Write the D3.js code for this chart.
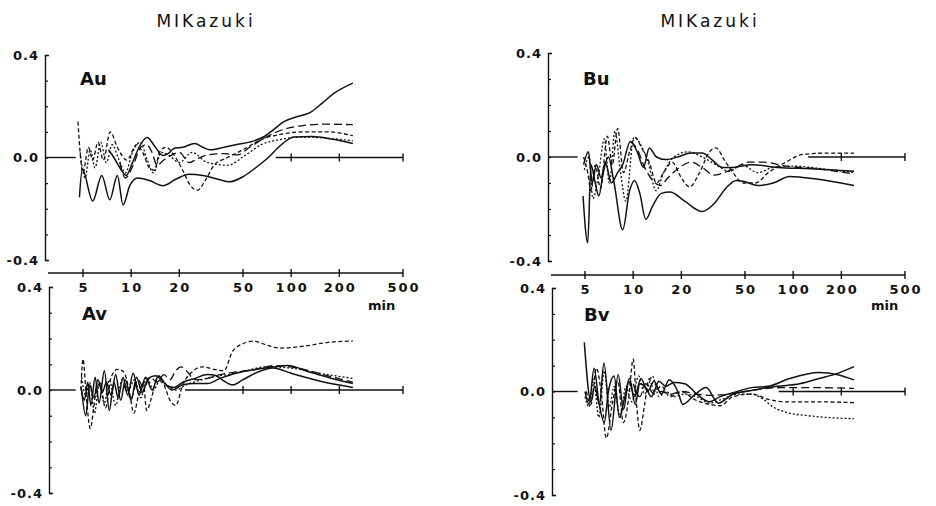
<!DOCTYPE html>
<html>
<head>
<meta charset="utf-8">
<script src="https://cdn.jsdelivr.net/npm/d3@7"></script>
<style>
  body { margin: 0; background: #fff; }
  text { font-family: "DejaVu Sans", sans-serif; fill: #111; }
</style>
</head>
<body>
<div id="chart"></div>
<script>
// ---- data (t in min, coefficient) ----
var xTicks = [5, 10, 20, 50, 100, 200, 500];
var yTicks = [0.4, 0.3, 0.2, 0.1, 0.0, -0.1, -0.2, -0.3, -0.4];
var yLabelled = [0.4, 0.0, -0.4];
var titles = ["MIKazuki", "MIKazuki"];
var panelNames = ["Au", "Bu", "Av", "Bv"];
var lineKinds = ["solid", "solid", "longdash", "shortdash", "dotted"];

var au = [
  [[7.2,0.03],[7.8,0.0],[8.5,-0.04],[9.3,-0.07],[10.2,-0.02],[11.2,0.04],[12.6,0.078],[14,0.045],[15.8,0.008],[17,0.015],[18.5,0.035],[21,0.04],[25,0.055],[28,0.04],[31,0.03],[38,0.04],[45,0.05],[55,0.06],[67,0.08],[78,0.11],[90,0.14],[110,0.16],[131,0.175],[155,0.21],[183,0.248],[243,0.29]],
  [[4.75,-0.155],[4.95,-0.045],[5.75,-0.17],[6.55,-0.07],[7.35,-0.165],[8.2,-0.07],[8.9,-0.185],[9.8,-0.11],[11,-0.08],[13,-0.09],[15.8,-0.11],[19,-0.085],[23,-0.065],[28,-0.07],[35,-0.085],[41,-0.095],[50,-0.075],[60,-0.04],[72,0.0],[85,0.045],[104,0.08],[135,0.082],[180,0.072],[243,0.055]],
  [[8.5,-0.02],[9.2,-0.08],[10.3,-0.03],[11.5,0.04],[12.5,0.05],[13.5,0.02],[14.5,-0.03],[16,-0.01],[18,0.01],[20,0.02],[23,-0.02],[26,-0.005],[30,0.01],[38,0.015],[46,0.01],[55,0.04],[70,0.08],[90,0.11],[120,0.125],[160,0.13],[243,0.128]],
  [[4.65,0.14],[5.0,-0.06],[5.4,0.04],[5.75,-0.01],[6.2,0.06],[6.7,-0.01],[7.4,0.1],[8.2,0.04],[9.4,-0.01],[10.8,0.05],[11.8,0.02],[13,-0.04],[14,-0.05],[15,0.02],[16.5,0.04],[18.5,0.01],[21,-0.05],[23.5,-0.11],[26,-0.128],[29,-0.09],[33,-0.03],[40,0.0],[50,0.03],[65,0.07],[85,0.09],[120,0.1],[170,0.1],[243,0.085]],
  [[4.8,0.02],[5.15,-0.08],[5.55,0.03],[5.95,-0.04],[6.45,0.06],[7.0,-0.02],[7.6,0.05],[8.4,-0.01],[9.2,-0.06],[10.2,0.02],[11.4,0.06],[12.6,-0.01],[13.8,-0.06],[15.4,0.02],[17.5,0.005],[20,-0.02],[24,0.02],[30,-0.02],[40,-0.03],[52,0.01],[65,0.05],[85,0.07],[120,0.08],[170,0.075],[243,0.065]]
];

var bu = [
  [[4.86,-0.15],[5.2,-0.33],[5.45,-0.03],[5.75,-0.09],[6.1,-0.15],[6.5,-0.06],[7.0,0.0],[7.6,-0.1],[8.6,-0.28],[9.5,-0.13],[10.2,-0.09],[11,-0.14],[12,-0.24],[13.2,-0.19],[15,-0.14],[17,-0.135],[21,-0.17],[27,-0.21],[32,-0.18],[38,-0.12],[44,-0.09],[50,-0.095],[60,-0.11],[75,-0.1],[95,-0.075],[140,-0.085],[240,-0.11]],
  [[4.9,-0.03],[5.25,0.02],[5.55,-0.1],[5.9,-0.03],[6.3,-0.08],[6.7,-0.02],[7.3,-0.1],[8.0,-0.06],[8.6,-0.03],[9.6,0.06],[10.6,0.02],[11.6,-0.04],[12.6,0.035],[14,0.0],[16,-0.01],[19,0.0],[23,0.015],[27,0.015],[31,-0.01],[36,-0.04],[42,-0.04],[55,-0.03],[80,-0.04],[130,-0.045],[240,-0.055]],
  [[9.7,0.06],[10.6,0.03],[11.8,-0.04],[13.2,-0.09],[14.8,-0.11],[16.5,-0.08],[19.5,-0.04],[23,-0.02],[27,-0.04],[32,-0.07],[37,-0.06],[44,-0.04],[52,-0.02],[65,-0.02],[90,-0.035],[140,-0.045],[240,-0.065]],
  [[4.9,0.0],[5.2,-0.06],[5.45,-0.13],[5.8,-0.03],[6.25,-0.12],[6.9,0.08],[7.4,-0.03],[8.0,0.11],[8.7,-0.06],[9.5,0.02],[10.3,0.075],[11.4,0.03],[12.6,-0.02],[14,-0.1],[15.5,-0.06],[17.5,-0.02],[20,-0.08],[22.5,-0.115],[26,-0.06],[30,0.02],[33,0.035],[37,-0.01],[42,-0.06],[49,-0.1],[58,-0.1],[70,-0.06],[90,-0.02],[115,0.01],[160,0.015],[240,0.015]],
  [[4.95,-0.05],[5.3,0.0],[5.6,-0.16],[6.1,-0.06],[6.6,0.07],[7.1,-0.1],[7.7,0.1],[8.3,-0.05],[9.0,-0.17],[10.1,0.075],[11.3,0.04],[12.4,-0.02],[13.9,-0.13],[15.5,-0.06],[18,0.0],[22,0.02],[27,0.0],[33,-0.03],[40,-0.055],[48,-0.03],[60,-0.06],[75,-0.04],[100,-0.035],[150,-0.045],[240,-0.06]]
];

var av = [
  [[4.85,0.01],[5.1,-0.04],[5.35,0.03],[5.6,-0.06],[5.95,0.05],[6.3,-0.05],[6.8,0.075],[7.3,-0.08],[7.8,0.03],[8.3,-0.03],[8.9,0.05],[9.5,-0.02],[10.3,0.065],[11.2,-0.02],[12.3,0.05],[13.5,0.0],[14.8,0.055],[16.5,0.02],[18.5,0.01],[21,0.03],[25,0.045],[30,0.06],[34,0.055],[38,0.035],[43,0.02],[50,0.04],[62,0.07],[77,0.085],[100,0.065],[150,0.035],[243,0.01]],
  [[4.9,0.0],[5.2,-0.1],[5.5,0.02],[5.85,-0.03],[6.2,0.04],[6.6,-0.01],[7.0,0.03],[7.5,-0.02],[8.0,0.06],[8.6,-0.04],[9.2,0.04],[10,-0.04],[10.8,0.05],[11.7,-0.01],[12.8,0.045],[14.2,0.055],[16,0.03],[18,0.0],[21,0.02],[25,0.025],[30,0.025],[36,0.045],[45,0.065],[60,0.08],[80,0.09],[95,0.095],[130,0.07],[180,0.045],[243,0.025]],
  [[9.0,0.02],[10,-0.03],[11,0.04],[12,0.01],[13.2,0.05],[14.5,0.03],[16,0.06],[17.5,0.04],[19,0.075],[20.5,0.09],[22.5,0.07],[25,0.04],[30,0.045],[36,0.06],[45,0.07],[60,0.08],[80,0.095],[110,0.085],[170,0.055],[243,0.03]],
  [[4.85,0.0],[5.0,0.12],[5.25,-0.03],[5.55,-0.15],[5.95,-0.03],[6.4,0.03],[6.9,-0.07],[7.5,0.05],[8.2,0.08],[9.0,0.07],[9.7,0.0],[10.4,-0.09],[11.2,-0.01],[11.9,0.03],[12.5,-0.08],[13.4,-0.03],[14.5,0.04],[16,0.02],[17.5,-0.04],[19,-0.06],[21,0.02],[24,0.07],[28,0.09],[33,0.08],[38,0.075],[43,0.15],[50,0.18],[58,0.19],[70,0.175],[85,0.163],[120,0.17],[170,0.185],[243,0.19]],
  [[4.9,0.05],[5.2,-0.02],[5.5,0.03],[5.9,-0.09],[6.3,0.02],[6.8,-0.05],[7.3,0.04],[8.0,-0.06],[8.8,0.04],[9.6,0.0],[10.5,0.04],[11.5,-0.03],[12.5,0.05],[13.8,0.0],[15.2,0.04],[17,0.015],[19,0.0],[22,0.02],[26,0.035],[32,0.05],[40,0.06],[52,0.075],[70,0.09],[100,0.085],[150,0.065],[243,0.045]]
];

var bv = [
  [[4.95,0.19],[5.45,-0.04],[5.75,0.02],[6.15,-0.05],[6.57,0.11],[7.27,-0.15],[8.06,0.065],[8.7,-0.07],[9.4,0.04],[10.2,-0.02],[11.2,0.05],[12.3,0.0],[13.5,0.04],[15,-0.01],[16.8,0.045],[19,0.0],[20.4,-0.05],[24,-0.015],[28.6,0.015],[34,-0.045],[42,-0.01],[50,0.0],[62,0.01],[80,0.02],[110,0.03],[145,0.05],[190,0.07],[240,0.096]],
  [[5.0,0.0],[5.3,-0.05],[5.7,0.09],[6.1,-0.04],[6.6,-0.12],[7.0,0.0],[7.6,0.06],[8.2,-0.1],[8.8,-0.03],[9.5,0.05],[10.3,-0.05],[11,0.03],[12,0.015],[13,-0.02],[14.5,0.04],[16,0.02],[18,0.035],[21,0.03],[25,-0.01],[30,-0.04],[35,-0.02],[42,-0.005],[55,0.015],[70,0.02],[95,0.05],[145,0.073],[190,0.065],[240,0.045]],
  [[10,0.03],[11,-0.02],[12,0.03],[13.5,-0.01],[15,0.0],[17,-0.01],[20,0.0],[25,-0.01],[30,-0.015],[40,-0.01],[50,0.0],[65,0.01],[85,0.015],[130,0.015],[240,0.012]],
  [[5.1,0.0],[5.45,-0.05],[5.9,0.09],[6.3,0.0],[6.8,-0.18],[7.4,-0.05],[8.0,0.04],[8.7,-0.12],[9.4,-0.02],[10.0,0.125],[10.5,-0.05],[11,-0.15],[11.8,-0.05],[12.6,0.05],[13.5,0.0],[15,0.02],[17,-0.02],[20,0.0],[24,-0.03],[30,-0.05],[35,-0.055],[42,-0.02],[55,-0.01],[70,-0.03],[90,-0.04],[140,-0.04],[240,-0.043]],
  [[5.0,-0.02],[5.3,-0.06],[5.65,0.05],[6.1,-0.1],[6.6,0.08],[7.1,-0.06],[7.6,0.02],[8.3,-0.1],[9,0.02],[9.8,-0.04],[10.8,0.06],[11.8,-0.01],[13.2,0.06],[14.5,-0.02],[16,0.0],[18,-0.02],[21,-0.01],[25,-0.02],[30,-0.045],[36,-0.03],[45,-0.01],[55,-0.01],[65,-0.03],[75,-0.06],[90,-0.08],[130,-0.095],[240,-0.105]]
];

// ---- layout ----
var svgWidth = 936;
var svgHeight = 506;

var svg = d3.select("#chart")
  .append("svg")
  .attr("width", svgWidth)
  .attr("height", svgHeight);

// one log time axis per column
var columns = [
  { range: [83, 403], axisStart: 48, axisY: 273, title: titles[0], titleX: 205, minX: 368 },
  { range: [585, 905], axisStart: 551, axisY: 275, title: titles[1], titleX: 709, minX: 871 }
];
columns.forEach(function(c) {
  c.x = d3.scaleLog().domain([5, 500]).range(c.range);
});

// panels: column, y range, y-axis x, label position, where zero line resumes
var panels = [
  { name: panelNames[0], data: au, col: 0, yRange: [260, 55], axisX: 45, labelX: 80, labelY: 85, zeroFrom: 80 },
  { name: panelNames[1], data: bu, col: 1, yRange: [261, 53], axisX: 548, labelX: 583, labelY: 85, zeroFrom: 124 },
  { name: panelNames[2], data: av, col: 0, yRange: [493, 287], axisX: 49, labelX: 82, labelY: 320, zeroFrom: 21.7 },
  { name: panelNames[3], data: bv, col: 1, yRange: [495, 288], axisX: 552, labelX: 584, labelY: 321, zeroFrom: 81 }
];

var dashes = {
  solid: null,
  longdash: "8,4",
  shortdash: "4,2.5",
  dotted: "2,2"
};

// titles, shared time axes
columns.forEach(function(c) {
  svg.append("text")
    .attr("x", c.titleX + 1)
    .attr("y", 27)
    .attr("text-anchor", "middle")
    .style("font-size", "17px")
    .style("letter-spacing", "3px")
    .text(c.title);

  var g = svg.append("g");
  g.append("line")
    .attr("x1", c.axisStart).attr("x2", c.x(500))
    .attr("y1", c.axisY).attr("y2", c.axisY)
    .attr("stroke", "#111").attr("stroke-width", 1.4);

  g.selectAll(".tk")
    .data(xTicks)
    .enter().append("line")
    .attr("x1", d => c.x(d)).attr("x2", d => c.x(d))
    .attr("y1", c.axisY - 4).attr("y2", c.axisY + 4)
    .attr("stroke", "#111").attr("stroke-width", 1.4);

  g.selectAll(".lb")
    .data(xTicks)
    .enter().append("text")
    .attr("x", d => c.x(d) + 1)
    .attr("y", c.axisY + 19)
    .attr("text-anchor", "middle")
    .style("font-size", "13px")
    .style("font-weight", "bold")
    .style("letter-spacing", "2px")
    .text(d => d);

  g.append("text")
    .attr("x", c.minX)
    .attr("y", 310)
    .style("font-size", "13px")
    .style("font-weight", "bold")
    .text("min");
});

panels.forEach(function(p) {
  var x = columns[p.col].x;
  var y = d3.scaleLinear().domain([-0.4, 0.4]).range(p.yRange);
  var g = svg.append("g");

  // y axis with ticks pointing inward
  var leftAxis = d3.axisLeft(y)
    .tickValues(yTicks)
    .tickSizeInner(-3)
    .tickSizeOuter(-4)
    .tickPadding(6)
    .tickFormat(d => yLabelled.some(v => Math.abs(v - d) < 1e-9) ? d.toFixed(1) : "");

  var ax = g.append("g")
    .attr("transform", `translate(${p.axisX},0)`)
    .call(leftAxis);
  ax.select(".domain").attr("stroke", "#111").attr("stroke-width", 1.4);
  ax.selectAll(".tick line").attr("stroke", "#111").attr("stroke-width", 1.2);
  ax.selectAll(".tick text")
    .style("font-size", "13px")
    .style("font-weight", "bold")
    .style("letter-spacing", "1px")
    .attr("fill", "#111");

  // zero line: short stub, then the open part to the right
  g.append("line")
    .attr("x1", p.axisX).attr("x2", x(4.5))
    .attr("y1", y(0)).attr("y2", y(0))
    .attr("stroke", "#111").attr("stroke-width", 1.4);
  g.append("line")
    .attr("x1", x(p.zeroFrom)).attr("x2", x(500))
    .attr("y1", y(0)).attr("y2", y(0))
    .attr("stroke", "#111").attr("stroke-width", 1.4);
  g.selectAll(".zt")
    .data(xTicks.filter(t => t >= p.zeroFrom))
    .enter().append("line")
    .attr("x1", d => x(d)).attr("x2", d => x(d))
    .attr("y1", y(0) - 4).attr("y2", y(0) + 4)
    .attr("stroke", "#111").attr("stroke-width", 1.4);

  // panel label
  g.append("text")
    .attr("x", p.labelX)
    .attr("y", p.labelY)
    .style("font-size", "18px")
    .style("font-weight", "bold")
    .text(p.name);

  var line = d3.line()
    .x(d => x(d[0]))
    .y(d => y(d[1]))
    .curve(d3.curveMonotoneX);

  g.selectAll(".curve")
    .data(p.data)
    .enter().append("path")
    .attr("d", line)
    .attr("fill", "none")
    .attr("stroke", "#111")
    .attr("stroke-width", (d, i) => lineKinds[i] == "solid" ? 1.5 : 1.3)
    .attr("stroke-dasharray", (d, i) => dashes[lineKinds[i]]);
});
</script>
</body>
</html>
